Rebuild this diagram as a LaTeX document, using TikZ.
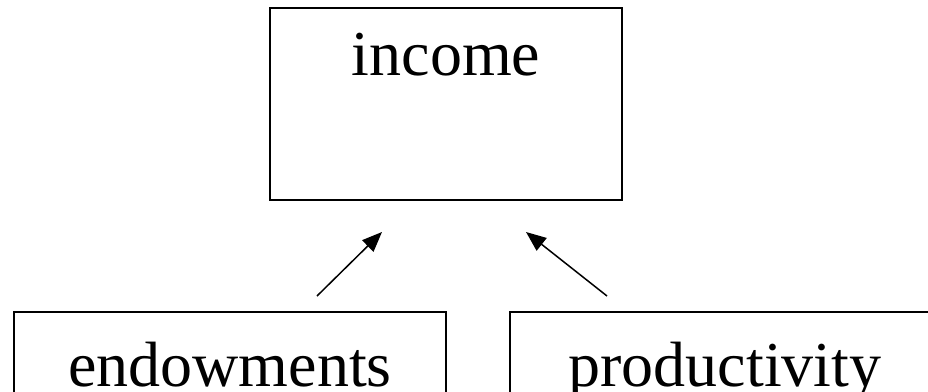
\documentclass[tikz,border=0pt]{standalone}
\usepackage{fontspec}
\setmainfont{Liberation Serif}
\usetikzlibrary{arrows.meta}
\tikzset{
  boxnode/.style={draw=black, line width=2pt, inner sep=0pt, rectangle},
  lbl/.style={inner sep=0pt, anchor=base, font=\fontsize{64}{76}\selectfont},
  conn/.style={line width=1.5pt, -{Triangle[length=20pt,width=16pt]}}
}
\begin{document}
\begin{tikzpicture}[x=1pt,y=-1pt]
\useasboundingbox (0,0) rectangle (928,391);
\clip (0,0) rectangle (928,391);
\fill[white] (0,0) rectangle (928,391);
% boxes
\node[boxnode, minimum width=352pt, minimum height=192pt] (income) at (446,104) {};
\node[boxnode, minimum width=432pt, minimum height=120pt] (endow) at (230,372) {};
\node[boxnode, minimum width=432pt, minimum height=120pt] (prod) at (726,372) {};
% labels
\node[lbl] (tincome) at (446,75) {income};
\node[lbl] (tendow) at (230,386) {endowments};
\node[lbl] (tprod) at (725,386) {productivity};
% connector ends
\coordinate (ltail) at (317,296);
\coordinate (ltip) at (382,232);
\coordinate (rtail) at (607,296);
\coordinate (rtip) at (526,232);
\draw[conn] (ltail) -- (ltip);
\draw[conn] (rtail) -- (rtip);
\end{tikzpicture}
\end{document}
